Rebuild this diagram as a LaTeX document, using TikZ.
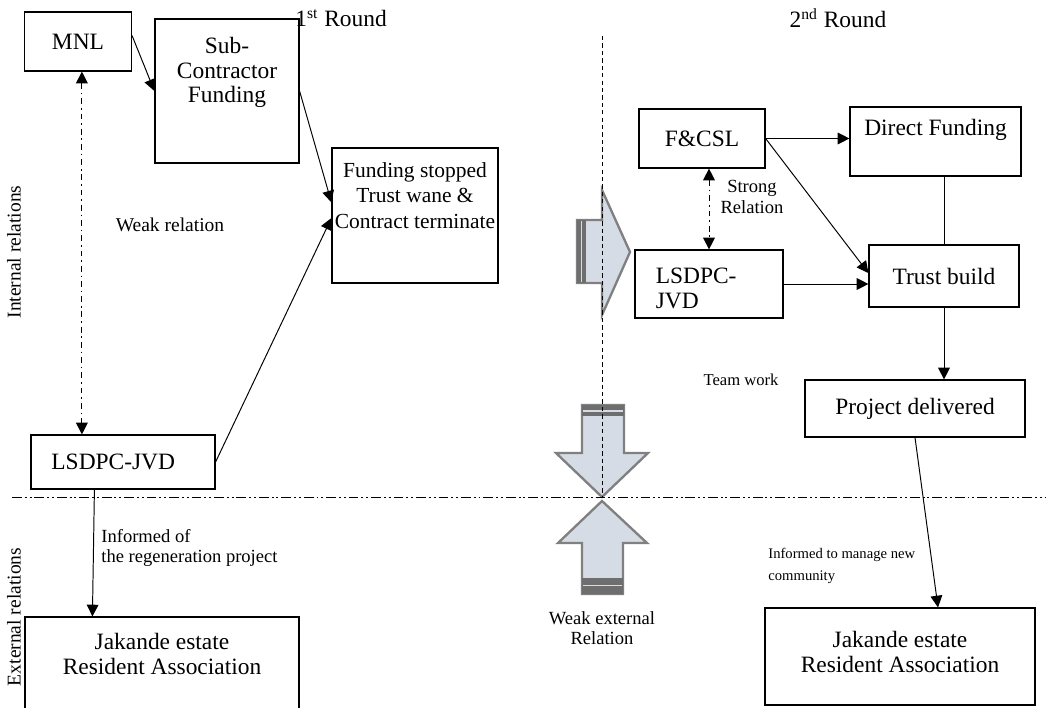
\documentclass[tikz,border=0pt]{standalone}
\usepackage{fontspec}
\setmainfont{Liberation Serif}
\usetikzlibrary{positioning, arrows.meta, calc}
\definecolor{arrowfill}{HTML}{D6DCE5}
\definecolor{arrowedge}{HTML}{808080}
\definecolor{arrowband}{HTML}{6E6E6E}
\newcommand{\pxu}{0.018cm}

\tikzset{
  box/.style={draw, line width=0.6pt, inner sep=0pt, font=\fontsize{12}{13}\selectfont},
  boxtext/.style={align=center, inner sep=0pt, font=\fontsize{12}{12.8}\selectfont},
  note/.style={inner sep=0pt, font=\fontsize{9.5}{10.5}\selectfont},
  smallnote/.style={inner sep=0pt, font=\fontsize{7.5}{11}\selectfont},
  link/.style={line width=0.5pt, -{Triangle[length=6pt,width=6pt]}},
  relation/.style={line width=0.5pt, dash pattern=on 3pt off 2pt on 0.8pt off 2pt,
    {Triangle[length=6pt,width=6pt]}-{Triangle[length=6pt,width=6pt]}},
  blockarrow/.style={fill=arrowfill, draw=arrowedge, line width=1.2pt, line join=miter},
}

\begin{document}
\begin{tikzpicture}[x=0.018cm, y=-0.018cm]
  \useasboundingbox (0,0) rectangle (1046,708);

  % 1st round
  \node[boxtext] (round1) at (341,18) {1\textsuperscript{st} Round};
  \node[box, minimum width=107*\pxu, minimum height=59*\pxu] (mnl) at (78,41.5) {MNL};
  \node[box, minimum width=144*\pxu, minimum height=144*\pxu] (sub) at (227,91) {};
  \node[boxtext] (subtxt) at ($(sub.north)+(0,54)$) {Sub-\\Contractor\\Funding};
  \node[box, minimum width=166*\pxu, minimum height=135*\pxu] (stop) at (415,215.5) {};
  \node[boxtext, font=\fontsize{11}{13}\selectfont] (stoptxt) at ($(stop.north)+(0,48)$) {Funding stopped\\Trust wane \&\\Contract terminate};
  \node[box, minimum width=184*\pxu, minimum height=54*\pxu] (lsdpcl) at (123,462) {LSDPC-JVD\hspace*{10pt}};
  \node[box, minimum width=274*\pxu, minimum height=98*\pxu] (jakl) at (162,666) {};
  \node[boxtext] (jakltxt) at ($(jakl.north)+(0,38)$) {Jakande estate\\Resident Association};
  \node[note, font=\fontsize{10}{11}\selectfont] (weak) at (170,225) {Weak relation};
  \node[note, anchor=west, align=left] (inf1) at (101,548) {Informed of\\the regeneration project};

  \draw[link] ([yshift=3pt]mnl.east) -- (sub.west);
  \draw[link] (sub.east) -- ([yshift=6.7pt]stop.west);
  \draw[link] (lsdpcl.east) -- ([yshift=-1.3pt]stop.west);
  \draw[relation] ([xshift=2pt]mnl.south) -- ([xshift=2pt]mnl.south |- lsdpcl.north);
  \draw[link] ($(lsdpcl.south west)+(64,0)$) -- ($(jakl.north west)+(68,0)$);

  % 2nd round
  \node[boxtext] (round2) at (838,18) {2\textsuperscript{nd} Round};
  \node[box, minimum width=126*\pxu, minimum height=59*\pxu] (fcsl) at (702,138.5) {F\&CSL};
  \node[box, minimum width=171*\pxu, minimum height=69*\pxu] (direct) at (935.5,141.5) {};
  \node[boxtext] (directtxt) at ($(direct.north)+(0,23)$) {Direct Funding};
  \node[box, minimum width=148*\pxu, minimum height=68*\pxu] (lsdpcr) at (709,284) {};
  \node[boxtext, align=left, anchor=west] (lsdpcrtxt) at ($(lsdpcr.west)+(21,4)$) {LSDPC-\\JVD};
  \node[box, minimum width=150*\pxu, minimum height=62*\pxu] (trust) at (944,276) {Trust build};
  \node[box, minimum width=220*\pxu, minimum height=57*\pxu] (proj) at (915,408.5) {Project delivered};
  \node[box, minimum width=270*\pxu, minimum height=97*\pxu] (jakr) at (900,656.5) {};
  \node[boxtext] (jakrtxt) at ($(jakr.north)+(0,45)$) {Jakande estate\\Resident Association};
  \node[note, align=center] (strong) at (752,197) {Strong\\Relation};
  \node[note, font=\fontsize{8.5}{10}\selectfont] (team) at (741,380) {Team work};
  \node[smallnote, anchor=west, align=left] (inf2) at (768,566) {Informed to manage new\\community};

  \draw[link] (fcsl.east) -- (fcsl.east -| direct.west);
  \draw[link] (fcsl.east) -- ([yshift=1.5pt]trust.west);
  \draw[link] (lsdpcr.east) -- (lsdpcr.east -| trust.west);
  \draw[line width=0.5pt] (trust.north |- direct.south) -- (trust.north);
  \draw[link] (trust.south) -- (trust.south |- proj.north);
  \draw[relation] (lsdpcr.north |- fcsl.south) -- (lsdpcr.north);
  \draw[link] (proj.south) -- ($(jakr.north)+(38,0)$);

  % block arrows
  \draw[blockarrow] (577,220) -- (602,220) -- (602,190) -- (630,252) -- (602,315) -- (602,283) -- (577,283) -- cycle;
  \fill[arrowband] (577,220) rectangle (586,283);
  \draw[arrowfill, line width=0.6pt] (581.5,221) -- (581.5,282);
  \draw[blockarrow] (582,405) -- (624,405) -- (624,453) -- (648,453) -- (602,497) -- (556,453) -- (582,453) -- cycle;
  \fill[arrowband] (582,405) rectangle (624,416);
  \draw[arrowfill, line width=0.6pt] (583,411) -- (623,411);
  \draw[blockarrow] (602,501) -- (647,543) -- (623,543) -- (623,594) -- (582,594) -- (582,543) -- (558,543) -- cycle;
  \fill[arrowband] (582,578) rectangle (623,594);
  \draw[arrowfill, line width=0.6pt] (583,585.5) -- (622,585.5);
  \node[note, align=center] (weakext) at (602,628) {Weak external\\Relation};

  % dividers
  \draw[line width=0.5pt, dash pattern=on 2.2pt off 1.6pt] (602,36) -- (602,497);
  \draw[line width=0.5pt, dash pattern=on 5pt off 1.5pt on 1pt off 1.5pt on 1pt off 1.5pt] (12,497) -- (1046,497);
  \node[note, font=\fontsize{10}{11}\selectfont, rotate=90] (internal) at (14,252) {Internal relations};
  \node[note, font=\fontsize{10}{11}\selectfont, rotate=90] (external) at (14,617) {External relations};
\end{tikzpicture}
\end{document}
